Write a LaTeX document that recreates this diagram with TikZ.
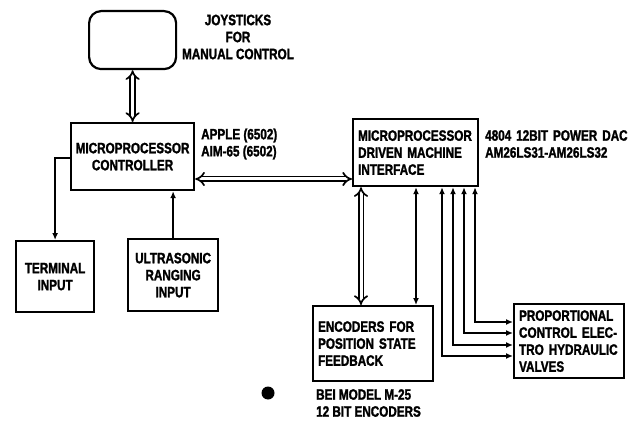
\documentclass[tikz,border=0pt]{standalone}
\usepackage{fontspec}
\setmainfont[FakeStretch=0.8]{Liberation Sans}
\setsansfont[FakeStretch=0.78,FakeBold=1.6]{Liberation Sans Bold}
\usetikzlibrary{arrows.meta}
\begin{document}
\begin{tikzpicture}[x=1pt,y=-1pt,
  every node/.style={font=\sffamily\fontsize{15}{17}\selectfont, inner sep=0pt},
  box/.style={draw, line width=2.2pt, anchor=north west, align=center},
  lbox/.style={box, align=left, inner xsep=5pt},
  lbl/.style={anchor=west, align=left},
  conn/.style={line width=2pt, {Latex[length=7pt,width=6pt]}-{Latex[length=7pt,width=6pt]}},
  oneway/.style={line width=2pt, -{Latex[length=7pt,width=6pt]}},
  dbl/.style={double, double distance=3pt, line width=1.7pt, {Implies[scale=1.25]}-{Implies[scale=1.25]}}]
\useasboundingbox (0,0) rectangle (634,422);
% boxes
\node[box, rounded corners=12pt, minimum width=87pt, minimum height=58pt] (joy) at (88,10) {};
\node[box, minimum width=123pt, minimum height=67pt] (ctrl) at (70,122) {MICROPROCESSOR\\CONTROLLER};
\node[box, minimum width=78pt, minimum height=71pt] (term) at (15,240) {TERMINAL\\INPUT};
\node[box, minimum width=90pt, minimum height=72pt] (ultra) at (127,238) {ULTRASONIC\\RANGING\\INPUT};
\node[lbox, minimum width=125pt, minimum height=67pt, text width=115pt] (iface) at (352,118) {MICROPROCESSOR\\DRIVEN MACHINE\\INTERFACE};
\node[lbox, minimum width=120pt, minimum height=75pt, text width=110pt] (enc) at (312,305) {ENCODERS FOR\\POSITION STATE\\FEEDBACK};
\node[lbox, minimum width=110pt, minimum height=74pt, text width=100pt] (valves) at (513,303) {PROPORTIONAL\\CONTROL ELEC-\\TRO HYDRAULIC\\VALVES};
% labels
\node[align=center] (joylbl) at (238,37) {JOYSTICKS\\FOR\\MANUAL CONTROL};
\node[lbl] (applbl) at (201,144) {APPLE (6502)\\AIM-65 (6502)};
\node[lbl] (daclbl) at (485,144) {\spaceskip=5pt plus 1pt 4804 12BIT POWER DAC\\AM26LS31-AM26LS32};
\node[lbl] (beilbl) at (316,403) {BEI MODEL M-25\\12 BIT ENCODERS};
\fill (268,393) circle (6.5pt);
% connectors
\draw[dbl] (joy.south) -- (ctrl.north);
\draw[dbl] (ctrl.east |- 0,179) -- (iface.west |- 0,179);
\draw[oneway] (ctrl.west |- 0,158) -| (term.north);
\draw[oneway] (ultra.north) -- (ctrl.south -| ultra.north);
\draw[dbl] (iface.south -| 361,0) -- (enc.north -| 361,0);
\draw[conn] (iface.south -| 416,0) -- (enc.north -| 416,0);
\draw[conn] (iface.south -| 475,0) |- (valves.west |- 0,322);
\draw[conn] (iface.south -| 464,0) |- (valves.west |- 0,333);
\draw[conn] (iface.south -| 453,0) |- (valves.west |- 0,345);
\draw[conn] (iface.south -| 442,0) |- (valves.west |- 0,356);
\end{tikzpicture}
\end{document}
